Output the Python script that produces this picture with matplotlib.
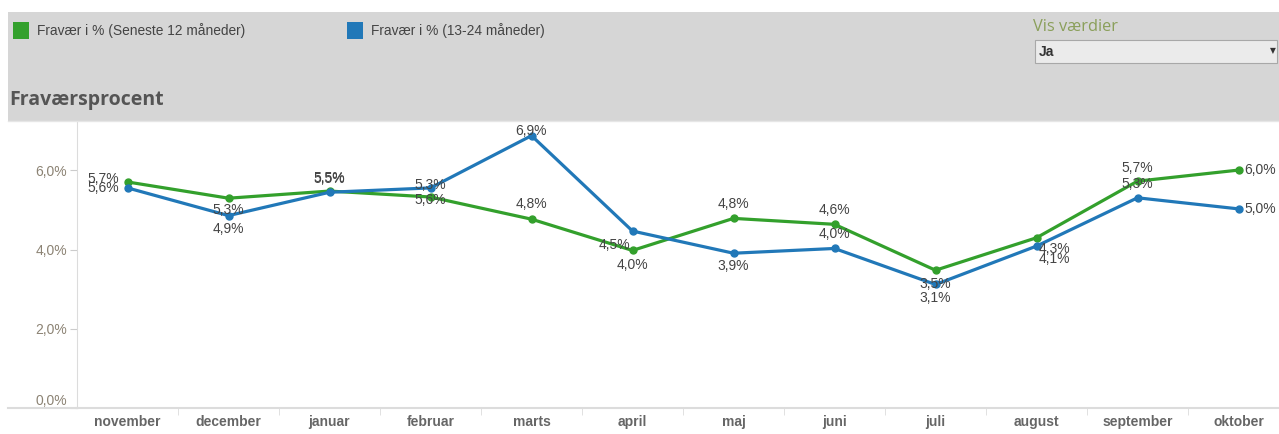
import matplotlib.pyplot as plt
from matplotlib.patches import Rectangle
from matplotlib.lines import Line2D

months = ['november', 'december', 'januar', 'februar', 'marts', 'april',
          'maj', 'juni', 'juli', 'august', 'september', 'oktober']
seneste_12 = [5.71, 5.30, 5.48, 5.33, 4.77, 3.98, 4.79, 4.64, 3.48, 4.30, 5.73, 6.01]
mdr_13_24 = [5.56, 4.86, 5.45, 5.56, 6.88, 4.47, 3.91, 4.03, 3.12, 4.09, 5.31, 5.03]
y_ticks = [0, 2, 4, 6]

GREEN = '#33a02c'
BLUE = '#2178b8'
W, H = 1279, 434

# label placement per point: (dx px, dy px, ha)
green_pos = [(-8, 3, 'right'), (0, -12, 'center'), (0, 13, 'center'), (0, 12, 'center'),
             (0, 15, 'center'), (0, -15, 'center'), (0, 14, 'center'), (0, 14, 'center'),
             (0, -14, 'center'), (2, -11, 'left'), (0, 13, 'center'), (6, 0, 'left')]
blue_pos = [(-8, 0, 'right'), (0, -13, 'center'), (0, 13, 'center'), (0, -12, 'center'),
            (0, 5, 'center'), (-2, -14, 'right'), (0, -13, 'center'), (0, 14, 'center'),
            (0, -14, 'center'), (2, -13, 'left'), (0, 14, 'center'), (6, 0, 'left')]


def fx(px):
    return px / W


def fy(py):
    return 1 - py / H


fig = plt.figure(figsize=(W / 100, H / 100), dpi=100)
fig.patch.set_facecolor('white')

# header panel
fig.patches.append(Rectangle((fx(8), fy(121)), 1 - fx(8), fy(12) - fy(121),
                             transform=fig.transFigure, facecolor='#d6d6d6',
                             edgecolor='none', zorder=0))

# legend
for x0, col, txt in [(13, GREEN, 'Fravær i % (Seneste 12 måneder)'),
                     (347, BLUE, 'Fravær i % (13-24 måneder)')]:
    fig.patches.append(Rectangle((fx(x0), fy(39)), fx(16), fy(22) - fy(39),
                                 transform=fig.transFigure, facecolor=col, edgecolor='none'))
    fig.text(fx(x0 + 24), fy(31), txt, fontsize=9.9, color='#444444',
             family='Liberation Sans', va='center', ha='left')

# "Vis værdier" selector
fig.text(fx(1033), fy(27), 'Vis værdier', fontsize=11.8, color='#8a9f5a',
         family='Open Sans', va='center', ha='left')
fig.patches.append(Rectangle((fx(1035), fy(63)), 1 - fx(1035) - fx(2), fy(40) - fy(63),
                             transform=fig.transFigure, facecolor='#ebebeb',
                             edgecolor='#a8a8a8', linewidth=0.8))
fig.text(fx(1039), fy(52), 'Ja', fontsize=10, color='#333333', fontweight='bold',
         family='Liberation Sans', va='center', ha='left')
fig.text(fx(1273), fy(51), '▼', fontsize=5.5, color='#333333',
         family='DejaVu Sans', va='center', ha='center')

fig.text(fx(9), fy(100), 'Fraværsprocent', fontsize=14, color='#555555',
         fontweight='bold', family='Open Sans', va='center', ha='left')

# plot axes
ax = fig.add_axes([fx(77), fy(408), 1 - fx(77), fy(121) - fy(408)])
ax.set_facecolor('white')
x = list(range(len(months)))
ax.set_xlim(-0.5, (W - 77) / 101 - 0.5)
ax.set_ylim(0, 7.25)

ax.plot(x, seneste_12, color=GREEN, lw=2.3, marker='o', ms=5, zorder=3)
ax.plot(x, mdr_13_24, color=BLUE, lw=2.3, marker='o', ms=5, zorder=3)


def fmt(v):
    return f'{v:.1f}'.replace('.', ',') + '%'


for vals, pos in [(seneste_12, green_pos), (mdr_13_24, blue_pos)]:
    for i, v in enumerate(vals):
        dx, dy, ha = pos[i]
        ax.annotate(fmt(v), (i, v), xytext=(dx, dy), textcoords='offset pixels',
                    ha=ha, va='center', fontsize=10, color='#444444',
                    family='Liberation Sans', zorder=4, annotation_clip=False)

for s in ['top', 'right']:
    ax.spines[s].set_visible(False)
ax.spines['left'].set_color('#dcdcdc')
ax.spines['bottom'].set_color('#dcdcdc')
ax.spines['bottom'].set_linewidth(1.5)

ax.set_yticks(y_ticks)
ylabels = ax.set_yticklabels([f'{t},0%' for t in y_ticks], fontsize=10, color='#8c8374',
                             family='Liberation Sans')
ylabels[0].set_va('bottom')
ax.tick_params(axis='y', length=5, color='#cccccc', pad=2)

ax.set_xticks(x)
ax.set_xticklabels(months, fontsize=10, color='#666666', fontweight='bold',
                   family=['Liberation Sans Narrow', 'Liberation Sans'])
ax.tick_params(axis='x', length=0, pad=5)
ax.set_xticks([i + 0.5 for i in range(len(months) - 1)], minor=True)
ax.tick_params(axis='x', which='minor', length=5, color='#dcdcdc')

# x axis line continues to the left edge, thin line under the header
fig.lines.append(Line2D([fx(8), fx(77)], [fy(408), fy(408)], transform=fig.transFigure,
                        color='#dcdcdc', lw=1.5))
fig.lines.append(Line2D([fx(8), 1], [fy(121), fy(121)], transform=fig.transFigure,
                        color='#e6e6e6', lw=1))

fig.savefig('out.png', dpi=100)
